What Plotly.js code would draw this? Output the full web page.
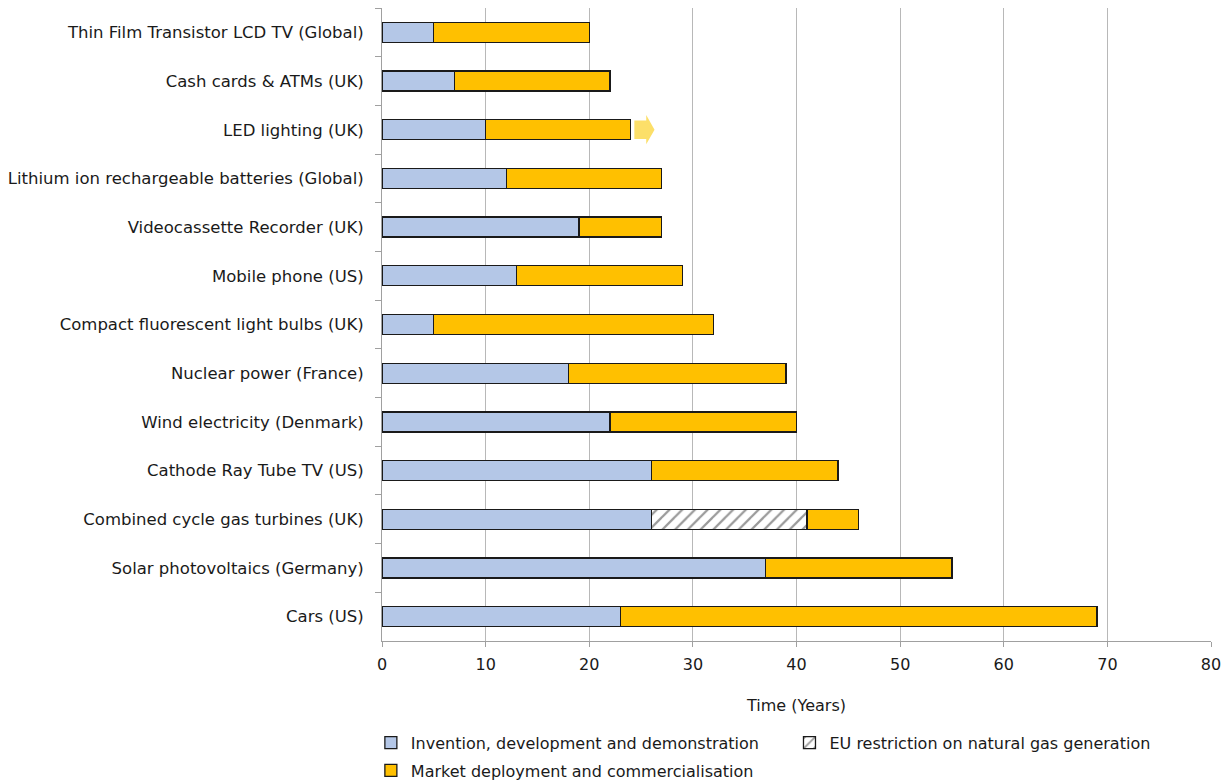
<!DOCTYPE html>
<html>
<head>
<meta charset="utf-8">
<script src="https://cdn.plot.ly/plotly-3.0.1.min.js"></script>
<style>html,body{margin:0;padding:0;background:#fff;}#chart{width:1224px;height:782px;}</style>
</head>
<body>
<div id="chart"></div>
<script>
const technologies = [
  "Thin Film Transistor LCD TV (Global)",
  "Cash cards & ATMs (UK)",
  "LED lighting (UK)",
  "Lithium ion rechargeable batteries (Global)",
  "Videocassette Recorder (UK)",
  "Mobile phone (US)",
  "Compact fluorescent light bulbs (UK)",
  "Nuclear power (France)",
  "Wind electricity (Denmark)",
  "Cathode Ray Tube TV (US)",
  "Combined cycle gas turbines (UK)",
  "Solar photovoltaics (Germany)",
  "Cars (US)"
];
const inventionYears = [5, 7, 10, 12, 19, 13, 5, 18, 22, 26, 26, 37, 23];
const restrictionYears = [0, 0, 0, 0, 0, 0, 0, 0, 0, 0, 15, 0, 0];
const deploymentYears = [15, 15, 14, 15, 8, 16, 27, 21, 18, 18, 5, 18, 46];
const ongoingTech = "LED lighting (UK)";

const FONT = "DejaVu Sans, sans-serif";
const outline = {color: "#1a1a1a", width: 1.3};
const barWidth = 0.41;

const traces = [
  {
    type: "bar", orientation: "h", name: "Invention, development and demonstration",
    y: technologies, x: inventionYears, width: barWidth,
    marker: {color: "#b4c7e7", line: outline}, legend: "legend", legendgroup: "inv", hoverinfo: "x+y"
  },
  {
    type: "bar", orientation: "h", name: "EU restriction on natural gas generation",
    y: technologies, x: restrictionYears, width: barWidth,
    marker: {color: "#ffffff", line: outline,
      pattern: {shape: "/", fgcolor: "#9a9a9a", bgcolor: "#ffffff", size: 9, solidity: 0.25}},
    legend: "legend2", legendgroup: "eu", hoverinfo: "x+y"
  },
  {
    type: "bar", orientation: "h", name: "Market deployment and commercialisation",
    y: technologies, x: deploymentYears, width: barWidth,
    marker: {color: "#ffc000", line: outline}, legend: "legend", legendgroup: "mkt", hoverinfo: "x+y"
  }
];

// arrow marking that LED deployment is still ongoing
const idx = technologies.indexOf(ongoingTech);
const ledEnd = inventionYears[idx] + restrictionYears[idx] + deploymentYears[idx];
const a0 = ledEnd + 0.35, a1 = ledEnd + 1.5, a2 = ledEnd + 2.3;
const arrowPath = `M${a0},${idx - 0.19} L${a1},${idx - 0.19} L${a1},${idx - 0.3} L${a2},${idx} L${a1},${idx + 0.3} L${a1},${idx + 0.19} L${a0},${idx + 0.19} Z`;

const legendFont = {family: FONT, size: 16, color: "#1a1a1a"};

const layout = {
  width: 1224, height: 782,
  margin: {l: 382, r: 13, t: 8, b: 141, autoexpand: false},
  paper_bgcolor: "#ffffff", plot_bgcolor: "#ffffff",
  barmode: "stack",
  font: {family: FONT, size: 16, color: "#1a1a1a"},
  showlegend: true,
  xaxis: {
    range: [0, 80], dtick: 10, tick0: 0, automargin: false,
    showgrid: true, gridcolor: "#b8b8b8", gridwidth: 1,
    showline: true, linecolor: "#a0a0a0", linewidth: 1,
    ticks: "outside", ticklen: 5, tickcolor: "#a0a0a0",
    zeroline: false, ticklabelstandoff: 4,
    tickfont: {family: FONT, size: 16, color: "#1a1a1a"},
    title: {text: "Time (Years)", font: {family: FONT, size: 16, color: "#1a1a1a"}, standoff: 26}
  },
  yaxis: {
    type: "category", autorange: "reversed", automargin: false,
    showgrid: false, showline: true, linecolor: "#a0a0a0", linewidth: 1,
    ticks: "outside", tickson: "boundaries", ticklen: 6, tickcolor: "#a0a0a0",
    tickfont: {family: FONT, size: 16.5, color: "#1a1a1a"},
    ticklabelstandoff: 14
  },
  legend: {
    orientation: "v", xref: "container", yref: "container",
    x: 0.303, y: 0.072, xanchor: "left", yanchor: "top",
    traceorder: "grouped", font: legendFont, itemwidth: 30, tracegroupgap: 4
  },
  legend2: {
    orientation: "v", xref: "container", yref: "container",
    x: 0.645, y: 0.072, xanchor: "left", yanchor: "top",
    font: legendFont, itemwidth: 30
  },
  shapes: [{
    type: "path", xref: "x", yref: "y", path: arrowPath,
    fillcolor: "#fcd94f", opacity: 0.85, line: {width: 0}, layer: "above"
  }]
};

Plotly.newPlot("chart", traces, layout, {displayModeBar: false, staticPlot: true});
</script>
</body>
</html>
